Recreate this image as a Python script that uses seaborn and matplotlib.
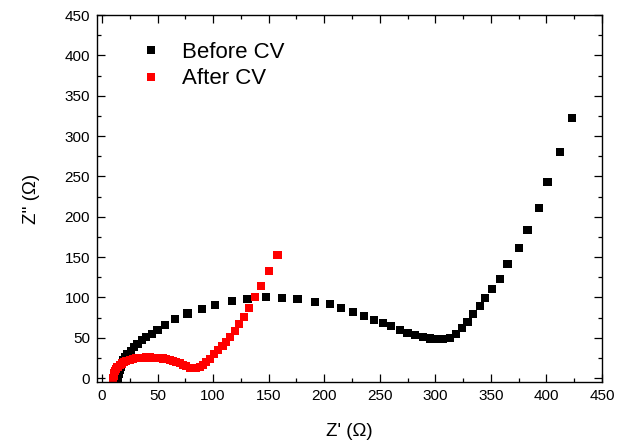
import matplotlib
matplotlib.use("Agg")
import matplotlib.pyplot as plt
import seaborn as sns
import pandas as pd
from matplotlib.ticker import MultipleLocator

# Before CV (black)
before_x = [14, 15, 16, 17, 18, 19, 21, 23, 26, 29, 32, 36, 40, 45, 50, 57, 66, 77, 90,
            102, 117, 131, 148, 162, 176, 192, 205, 215, 226, 236, 245, 253, 260, 268,
            275, 282, 289, 295, 301, 307, 313, 319, 324, 329, 334, 340, 345, 351, 358,
            365, 375, 383, 393, 401, 412, 423]
before_y = [0, 5, 10, 14, 18, 22, 26, 30, 34, 38, 42, 47, 51, 55, 60, 66, 73, 80, 86,
            91, 96, 98, 100, 99, 98, 94, 92, 87, 82, 77, 72, 68, 64, 60,
            56, 53, 51, 49, 48, 48, 50, 55, 62, 70, 79, 89, 99, 110, 123,
            141, 161, 184, 211, 243, 280, 322]

# After CV (red)
after_x = [10, 10.5, 11, 12, 13, 14, 16, 18, 20, 22, 25, 28, 31, 34, 37, 40, 43, 46, 49,
           52, 55, 58, 61, 64, 67, 70, 73, 76, 79, 82, 85, 88, 91, 94, 97, 100.5,
           104.5, 108.5, 112, 115.5, 119.5, 123.5, 128, 132.5, 138, 143.5, 150, 158]
after_y = [0, 3, 6, 9, 11.5, 13.5, 16, 18, 19.8, 21.2, 22.6, 23.7, 24.5, 25, 25.3, 25.5,
           25.5, 25.4, 25.2, 24.8, 24.2, 23.4, 22.4, 21.2, 19.8, 18.2, 16.4, 14.6, 13,
           12, 12.2, 14, 16.5, 19.5, 24, 29.5, 34.7, 40, 45, 51.3, 58.7, 67, 76,
           87, 100, 114.5, 133, 153]

series_names = ["Before CV", "After CV"]
colors = ["#000000", "#ff0000"]

df = pd.concat([
    pd.DataFrame({"x": before_x, "y": before_y, "series": series_names[0]}),
    pd.DataFrame({"x": after_x, "y": after_y, "series": series_names[1]}),
], ignore_index=True)

sns.set_theme(style="ticks")
plt.rcParams["font.family"] = ["Liberation Sans", "DejaVu Sans"]
plt.rcParams["xtick.direction"] = "in"
plt.rcParams["ytick.direction"] = "in"
plt.rcParams["text.color"] = "black"
plt.rcParams["axes.labelcolor"] = "black"

fig = plt.figure(figsize=(6.24, 4.40), dpi=100)
ax = fig.add_axes([0.1554, 0.1307, 0.8093, 0.8352])

sns.scatterplot(data=df, x="x", y="y", hue="series", hue_order=series_names,
                palette=dict(zip(series_names, colors)), marker="s", s=34,
                edgecolor="none", linewidth=0, ax=ax, legend=True)

ax.set_xlim(-4.5, 450)
ax.set_ylim(-5.5, 450)
ax.xaxis.set_major_locator(MultipleLocator(50))
ax.yaxis.set_major_locator(MultipleLocator(50))
ax.xaxis.set_minor_locator(MultipleLocator(25))
ax.yaxis.set_minor_locator(MultipleLocator(25))
ax.tick_params(which="both", direction="in", top=True, right=True, colors="black",
               labelcolor="black", labelsize=11)
ax.tick_params(which="major", length=6, width=0.9, pad=5)
ax.tick_params(which="minor", length=3, width=0.9)
for sp in ax.spines.values():
    sp.set_visible(True)
    sp.set_linewidth(1.0)
    sp.set_color("black")

ax.set_xlabel("Z' (Ω)", fontsize=13.5, labelpad=14, color="black")
ax.set_ylabel("Z'' (Ω)", fontsize=13.5, labelpad=18, color="black")

leg = ax.legend(frameon=False, fontsize=16, loc="upper left",
                bbox_to_anchor=(0.0455, 0.952), handletextpad=0.4,
                labelspacing=0.26, markerscale=1.0, borderaxespad=0)
for t in leg.get_texts():
    t.set_color("black")

fig.savefig("out.png", dpi=100)
